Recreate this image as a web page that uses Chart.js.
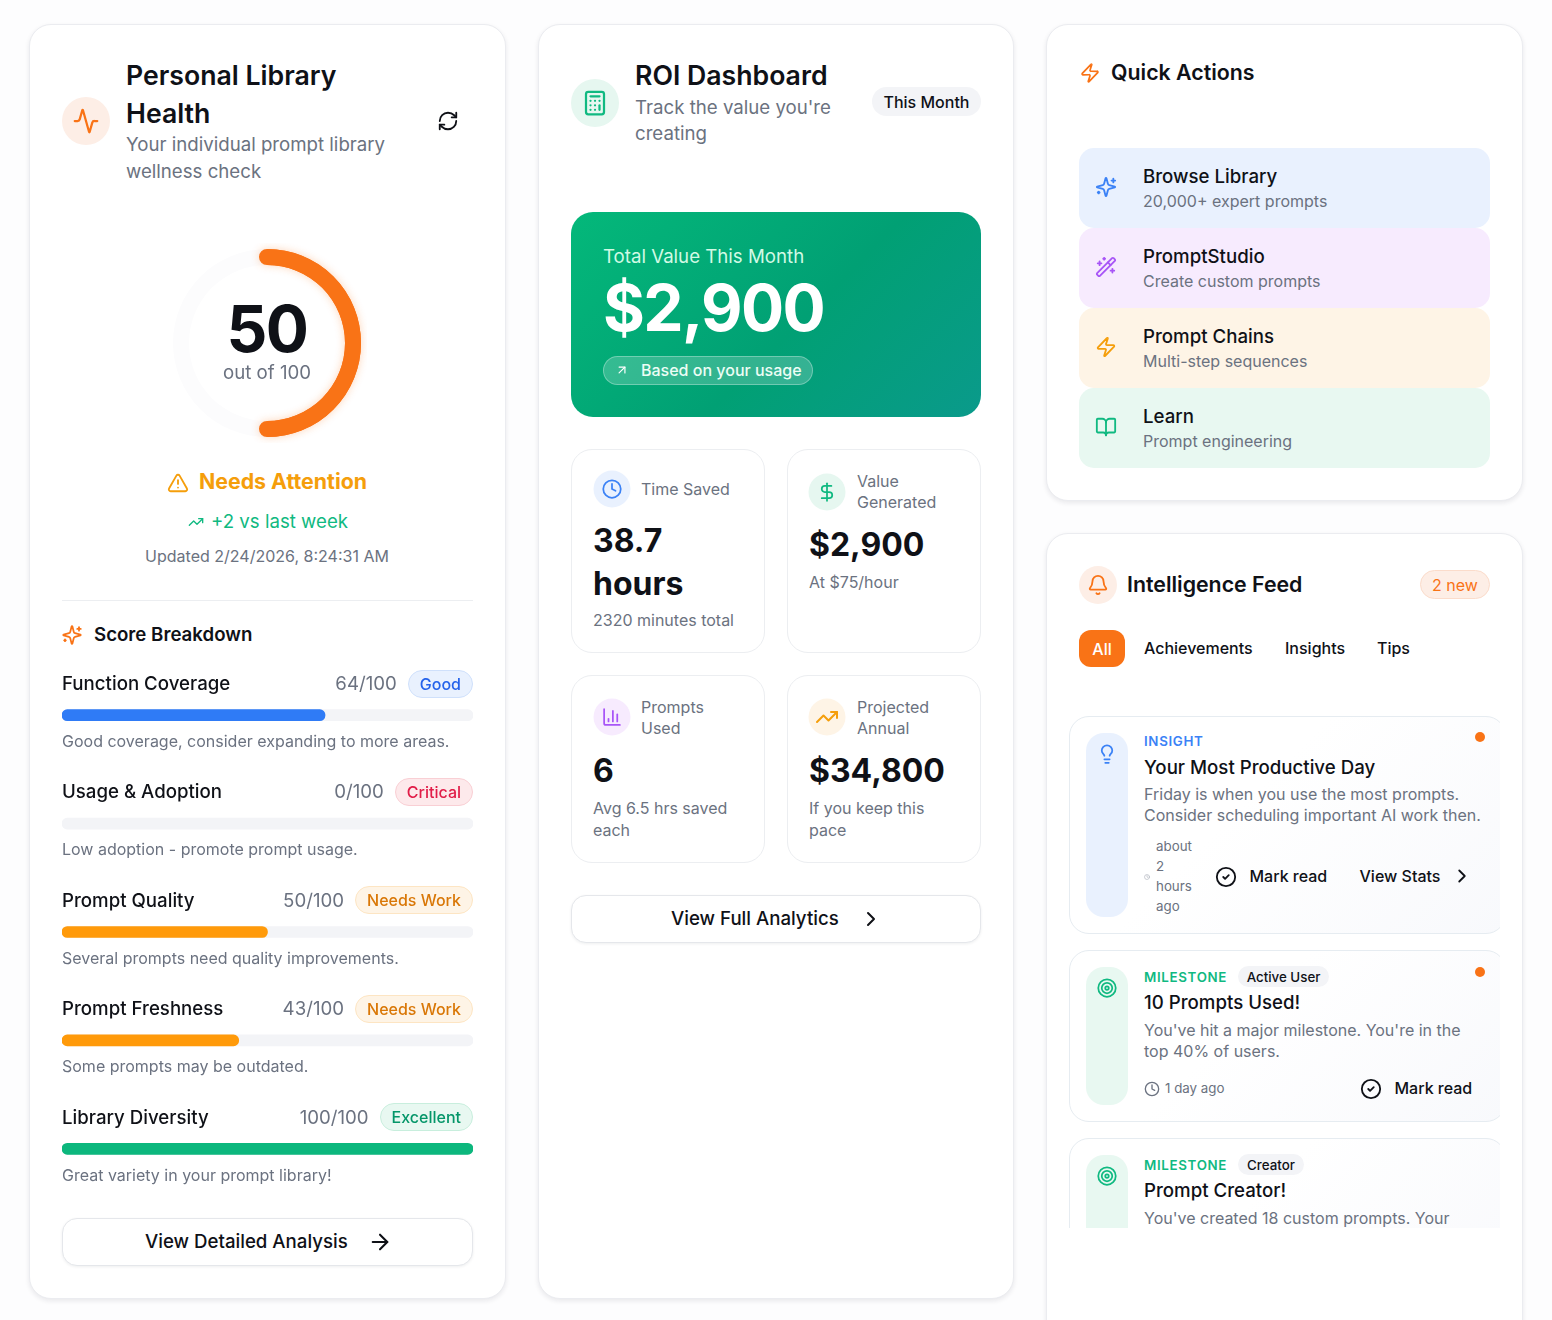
<!DOCTYPE html>
<html>
<head>
<meta charset="utf-8">
<title>Personal Library Health</title>
<script src="https://cdn.jsdelivr.net/npm/chart.js@4/dist/chart.umd.min.js"></script>
<style>
  html, body { margin: 0; padding: 0; background: #fdfdfe; }
  #root { position: relative; width: 1552px; height: 1320px; overflow: hidden; font-family: Inter, "Noto Sans", sans-serif; color: #0f1117; }
  .box { position: absolute; box-sizing: border-box; }
  .card { background: #fff; border: 1px solid #ebecf0; border-radius: 22px; box-shadow: 0 2px 5px rgba(17,24,39,.09); }
  .t { position: absolute; transform: translateY(-50%); white-space: nowrap; }
  .c { position: absolute; transform: translate(-50%,-50%); white-space: nowrap; }
  .ic { position: absolute; transform: translate(-50%,-50%); fill: none; stroke: currentColor; stroke-width: 2; stroke-linecap: round; stroke-linejoin: round; }
  .dot { position: absolute; transform: translate(-50%,-50%); border-radius: 50%; }
  .h1 { font-size: 26.67px; font-weight: 600; }
  .h2 { font-size: 21.33px; font-weight: 600; }
  .sub { font-size: 18.67px; color: #6b7280; }
  .s17 { font-size: 16px; color: #6b7280; }
  .s14 { font-size: 13.33px; color: #6b7280; }
  .m20 { font-size: 18.67px; font-weight: 500; }
  .m17 { font-size: 16px; font-weight: 500; }
  .val { font-size: 32px; font-weight: 700; }
  .btn { background: #fff; border: 1px solid #e5e7eb; border-radius: 15px; box-shadow: 0 1px 3px rgba(17,24,39,.07); }
  .mini { background: #fff; border: 1px solid #eceef1; border-radius: 21px; }
  .tag { font-size: 13.33px; font-weight: 600; letter-spacing: .67px; }
  .pill { position: absolute; box-sizing: border-box; border-radius: 99px; display: flex; align-items: center; justify-content: center; font-size: 16px; font-weight: 500; }
  .row { position: absolute; left: 62px; width: 411px; height: 30px; display: flex; align-items: center; }
  .row .name { font-size: 18.67px; font-weight: 500; }
  .row .num { margin-left: auto; font-size: 18.67px; color: #6b7280; }
  .row .badge { margin-left: 11px; height: 28px; padding: 0 11px; box-sizing: border-box; border-radius: 99px; border: 1px solid; display: flex; align-items: center; font-size: 16px; font-weight: 500; }
  .action { position: absolute; left: 1079px; width: 411px; height: 80px; border-radius: 15px; }
  .item { position: absolute; left: 0; width: 437px; border: 1px solid #e6ecf1; border-radius: 20px; box-sizing: border-box; background: linear-gradient(135deg, #fff 40%, #f8f9fc); }
  .strip { position: absolute; left: 17px; width: 42px; border-radius: 18px; }
  canvas { position: absolute; }
</style>
</head>
<body>
<svg width="0" height="0" style="position:absolute">
  <symbol id="activity" viewBox="0 0 24 24"><path d="M22 12h-2.48a2 2 0 0 0-1.93 1.46l-2.35 8.36a.25.25 0 0 1-.48 0L9.24 2.18a.25.25 0 0 0-.48 0l-2.35 8.36A2 2 0 0 1 4.49 12H2"/></symbol>
  <symbol id="refresh" viewBox="0 0 24 24"><path d="M3 12a9 9 0 0 1 9-9 9.75 9.75 0 0 1 6.74 2.74L21 8"/><path d="M21 3v5h-5"/><path d="M21 12a9 9 0 0 1-9 9 9.75 9.75 0 0 1-6.74-2.74L3 16"/><path d="M8 16H3v5"/></symbol>
  <symbol id="alert" viewBox="0 0 24 24"><path d="m21.73 18-8-14a2 2 0 0 0-3.48 0l-8 14A2 2 0 0 0 4 21h16a2 2 0 0 0 1.73-3"/><path d="M12 9v4"/><path d="M12 17h.01"/></symbol>
  <symbol id="trend" viewBox="0 0 24 24"><path d="M22 7 13.5 15.5 8.5 10.5 2 17"/><path d="M16 7h6v6"/></symbol>
  <symbol id="sparkles" viewBox="0 0 24 24"><path d="M9.937 15.5A2 2 0 0 0 8.5 14.063l-6.135-1.582a.5.5 0 0 1 0-.962L8.5 9.936A2 2 0 0 0 9.937 8.5l1.582-6.135a.5.5 0 0 1 .963 0L14.063 8.5A2 2 0 0 0 15.5 9.937l6.135 1.581a.5.5 0 0 1 0 .964L15.5 14.063a2 2 0 0 0-1.437 1.437l-1.582 6.135a.5.5 0 0 1-.963 0z"/><path d="M20 3v4"/><path d="M22 5h-4"/><path d="M4 17v2"/><path d="M5 18H3"/></symbol>
  <symbol id="arrow" viewBox="0 0 24 24"><path d="M5 12h14"/><path d="m12 5 7 7-7 7"/></symbol>
  <symbol id="chev" viewBox="0 0 24 24"><path d="m9 18 6-6-6-6"/></symbol>
  <symbol id="upright" viewBox="0 0 24 24"><path d="M7 7h10v10"/><path d="M7 17 17 7"/></symbol>
  <symbol id="calc" viewBox="0 0 24 24"><rect x="4" y="2" width="16" height="20" rx="2"/><path d="M8 6h8"/><path d="M16 14v4"/><path d="M16 10h.01"/><path d="M12 10h.01"/><path d="M8 10h.01"/><path d="M12 14h.01"/><path d="M8 14h.01"/><path d="M12 18h.01"/><path d="M8 18h.01"/></symbol>
  <symbol id="clock" viewBox="0 0 24 24"><circle cx="12" cy="12" r="10"/><path d="M12 6v6l4 2"/></symbol>
  <symbol id="dollar" viewBox="0 0 24 24"><path d="M12 2v20"/><path d="M17 5H9.5a3.5 3.5 0 0 0 0 7h5a3.5 3.5 0 0 1 0 7H6"/></symbol>
  <symbol id="columns" viewBox="0 0 24 24"><path d="M3 3v16a2 2 0 0 0 2 2h16"/><path d="M18 17V9"/><path d="M13 17V5"/><path d="M8 17v-3"/></symbol>
  <symbol id="zap" viewBox="0 0 24 24"><path d="M4 14a1 1 0 0 1-.78-1.63l9.9-10.2a.5.5 0 0 1 .86.46l-1.92 6.02A1 1 0 0 0 13 10h7a1 1 0 0 1 .78 1.63l-9.9 10.2a.5.5 0 0 1-.86-.46l1.92-6.02A1 1 0 0 0 11 14z"/></symbol>
  <symbol id="wand" viewBox="0 0 24 24"><path d="m21.64 3.64-1.28-1.28a1.21 1.21 0 0 0-1.72 0L2.36 18.64a1.21 1.21 0 0 0 0 1.72l1.28 1.28a1.2 1.2 0 0 0 1.72 0L21.64 5.36a1.2 1.2 0 0 0 0-1.72"/><path d="m14 7 3 3"/><path d="M5 6v4"/><path d="M19 14v4"/><path d="M10 2v2"/><path d="M7 8H3"/><path d="M21 16h-4"/><path d="M11 3H9"/></symbol>
  <symbol id="book" viewBox="0 0 24 24"><path d="M12 7v14"/><path d="M3 18a1 1 0 0 1-1-1V4a1 1 0 0 1 1-1h5a4 4 0 0 1 4 4 4 4 0 0 1 4-4h5a1 1 0 0 1 1 1v13a1 1 0 0 1-1 1h-6a3 3 0 0 0-3 3 3 3 0 0 0-3-3z"/></symbol>
  <symbol id="bell" viewBox="0 0 24 24"><path d="M10.268 21a2 2 0 0 0 3.464 0"/><path d="M3.262 15.326A1 1 0 0 0 4 17h16a1 1 0 0 0 .74-1.673C19.41 13.956 18 12.499 18 8A6 6 0 0 0 6 8c0 4.499-1.411 5.956-2.738 7.326"/></symbol>
  <symbol id="bulb" viewBox="0 0 24 24"><path d="M15 14c.2-1 .7-1.7 1.5-2.5 1-.9 1.5-2.2 1.5-3.5A6 6 0 0 0 6 8c0 1 .2 2.2 1.5 3.5.7.7 1.3 1.5 1.5 2.5"/><path d="M9 18h6"/><path d="M10 22h4"/></symbol>
  <symbol id="check" viewBox="0 0 24 24"><circle cx="12" cy="12" r="10"/><path d="m9 12 2 2 4-4"/></symbol>
  <symbol id="target" viewBox="0 0 24 24"><circle cx="12" cy="12" r="10"/><circle cx="12" cy="12" r="6"/><circle cx="12" cy="12" r="2"/></symbol>
</svg>

<div id="root">
  <!-- left card -->
  <div class="box card" style="left:29px;top:24px;width:477px;height:1275px"></div>
  <div class="dot" style="left:86px;top:121px;width:48px;height:48px;background:#fdeee6"></div>
  <svg class="ic" style="left:86px;top:121px;color:#f97316" width="27" height="27"><use href="#activity"/></svg>
  <div class="t h1" style="left:126px;top:75px">Personal Library</div>
  <div class="t h1" style="left:126px;top:113px">Health</div>
  <div class="t sub" style="left:126px;top:144px">Your individual prompt library</div>
  <div class="t sub" style="left:126px;top:171px">wellness check</div>
  <svg class="ic" style="left:448px;top:121px" width="22" height="22"><use href="#refresh"/></svg>

  <canvas id="scoreGauge" width="200" height="200" style="left:167px;top:243px"></canvas>
  <div class="c" id="scoreBig" style="left:267px;top:329px;font-size:64px;line-height:54px;font-weight:700;letter-spacing:-1.6px"></div>
  <div class="c" style="left:267px;top:373px;font-size:18.67px;line-height:18px;color:#6b7280">out of 100</div>
  <svg class="ic" style="left:178px;top:483px;color:#f59e0b" width="22" height="22"><use href="#alert"/></svg>
  <div class="t" style="left:199px;top:481px;font-size:21.33px;font-weight:700;color:#f59e0b">Needs Attention</div>
  <svg class="ic" style="left:196px;top:522px;color:#10b981" width="16" height="16"><use href="#trend"/></svg>
  <div class="t" style="left:211px;top:521px;font-size:18.67px;color:#10b981">+2 vs last week</div>
  <div class="c" style="left:267px;top:556px;font-size:16px;color:#6b7280">Updated 2/24/2026, 8:24:31 AM</div>
  <div class="box" style="left:62px;top:600px;width:411px;height:1px;background:#eceef1"></div>
  <svg class="ic" style="left:72px;top:635px;color:#f97316" width="21" height="21"><use href="#sparkles"/></svg>
  <div class="t" style="left:94px;top:634px;font-size:18.67px;font-weight:600">Score Breakdown</div>

  <canvas id="scoreBars" width="411" height="542" style="left:62px;top:661px"></canvas>
  <div id="scoreRows"></div>

  <div class="box btn" style="left:62px;top:1218px;width:411px;height:48px"></div>
  <div class="t m20" style="left:145px;top:1241px">View Detailed Analysis</div>
  <svg class="ic" style="left:380px;top:1242px" width="25" height="25"><use href="#arrow"/></svg>

  <!-- middle card -->
  <div class="box card" style="left:538px;top:24px;width:476px;height:1275px"></div>
  <div class="dot" style="left:595px;top:103px;width:48px;height:48px;background:#e6f7f0"></div>
  <svg class="ic" style="left:595px;top:103px;color:#10b981" width="27" height="27"><use href="#calc"/></svg>
  <div class="t h1" style="left:635px;top:75px">ROI Dashboard</div>
  <div class="t sub" style="left:635px;top:107px">Track the value you're</div>
  <div class="t sub" style="left:635px;top:133px">creating</div>
  <div class="pill" style="left:872px;top:87px;width:109px;height:29px;background:#f3f4f7">This Month</div>

  <div class="box" style="left:571px;top:212px;width:410px;height:205px;border-radius:22px;background:linear-gradient(135deg,#04b87a,#01a074 55%,#0a9a8b)"></div>
  <div class="t" style="left:603px;top:256px;font-size:18.67px;color:#d1fae5">Total Value This Month</div>
  <div class="t" style="left:603px;top:307px;font-size:64px;font-weight:700;color:#fff;letter-spacing:-1.6px">$2,900</div>
  <div class="box" style="left:603px;top:356px;width:210px;height:29px;border-radius:99px;background:rgba(255,255,255,.2);border:1px solid rgba(255,255,255,.3)"></div>
  <svg class="ic" style="left:622px;top:370px;color:#fff" width="14" height="14"><use href="#upright"/></svg>
  <div class="t m17" style="left:641px;top:370px;color:#ecfdf5">Based on your usage</div>

  <div class="box mini" style="left:571px;top:449px;width:194px;height:204px"></div>
  <div class="box mini" style="left:787px;top:449px;width:194px;height:204px"></div>
  <div class="box mini" style="left:571px;top:675px;width:194px;height:188px"></div>
  <div class="box mini" style="left:787px;top:675px;width:194px;height:188px"></div>

  <div class="dot" style="left:612px;top:489px;width:37px;height:37px;background:#e9f1fe"></div>
  <svg class="ic" style="left:612px;top:489px;color:#3b82f6" width="21" height="21"><use href="#clock"/></svg>
  <div class="t s17" style="left:641px;top:489px">Time Saved</div>
  <div class="t val" style="left:593px;top:540px">38.7</div>
  <div class="t val" style="left:593px;top:583px">hours</div>
  <div class="t s17" style="left:593px;top:620px">2320 minutes total</div>

  <div class="dot" style="left:827px;top:492px;width:37px;height:37px;background:#e6f7f0"></div>
  <svg class="ic" style="left:827px;top:492px;color:#10b981" width="21" height="21"><use href="#dollar"/></svg>
  <div class="t s17" style="left:857px;top:481px">Value</div>
  <div class="t s17" style="left:857px;top:502px">Generated</div>
  <div class="t val" style="left:809px;top:544px">$2,900</div>
  <div class="t s17" style="left:809px;top:582px">At $75/hour</div>

  <div class="dot" style="left:612px;top:717px;width:37px;height:37px;background:#f7ebfe"></div>
  <svg class="ic" style="left:612px;top:717px;color:#a855f7" width="21" height="21"><use href="#columns"/></svg>
  <div class="t s17" style="left:641px;top:707px">Prompts</div>
  <div class="t s17" style="left:641px;top:728px">Used</div>
  <div class="t val" style="left:593px;top:770px">6</div>
  <div class="t s17" style="left:593px;top:808px">Avg 6.5 hrs saved</div>
  <div class="t s17" style="left:593px;top:830px">each</div>

  <div class="dot" style="left:827px;top:717px;width:37px;height:37px;background:#fef4e6"></div>
  <svg class="ic" style="left:827px;top:717px;color:#f59e0b" width="24" height="24"><use href="#trend"/></svg>
  <div class="t s17" style="left:857px;top:707px">Projected</div>
  <div class="t s17" style="left:857px;top:728px">Annual</div>
  <div class="t val" style="left:809px;top:770px">$34,800</div>
  <div class="t s17" style="left:809px;top:808px">If you keep this</div>
  <div class="t s17" style="left:809px;top:830px">pace</div>

  <div class="box btn" style="left:571px;top:895px;width:410px;height:48px"></div>
  <div class="t m20" style="left:671px;top:918px">View Full Analytics</div>
  <svg class="ic" style="left:871px;top:919px" width="24" height="24"><use href="#chev"/></svg>

  <!-- quick actions -->
  <div class="box card" style="left:1046px;top:24px;width:477px;height:477px"></div>
  <svg class="ic" style="left:1090px;top:73px;color:#f97316" width="21" height="21"><use href="#zap"/></svg>
  <div class="t h2" style="left:1111px;top:72px">Quick Actions</div>

  <div class="action" style="top:148px;background:#e9f1fe"></div>
  <svg class="ic" style="left:1106px;top:187px;color:#3b82f6" width="22" height="22"><use href="#sparkles"/></svg>
  <div class="t m20" style="left:1143px;top:176px">Browse Library</div>
  <div class="t s17" style="left:1143px;top:201px">20,000+ expert prompts</div>

  <div class="action" style="top:228px;background:#f7ebfe"></div>
  <svg class="ic" style="left:1106px;top:267px;color:#a855f7" width="22" height="22"><use href="#wand"/></svg>
  <div class="t m20" style="left:1143px;top:256px">PromptStudio</div>
  <div class="t s17" style="left:1143px;top:281px">Create custom prompts</div>

  <div class="action" style="top:308px;background:#fef4e6"></div>
  <svg class="ic" style="left:1106px;top:347px;color:#f59e0b" width="22" height="22"><use href="#zap"/></svg>
  <div class="t m20" style="left:1143px;top:336px">Prompt Chains</div>
  <div class="t s17" style="left:1143px;top:361px">Multi-step sequences</div>

  <div class="action" style="top:388px;background:#e8f8f1"></div>
  <svg class="ic" style="left:1106px;top:427px;color:#10b981" width="22" height="22"><use href="#book"/></svg>
  <div class="t m20" style="left:1143px;top:416px">Learn</div>
  <div class="t s17" style="left:1143px;top:441px">Prompt engineering</div>

  <!-- intelligence feed -->
  <div class="box card" style="left:1046px;top:533px;width:477px;height:840px"></div>
  <div class="dot" style="left:1098px;top:585px;width:38px;height:38px;background:#fdeee6"></div>
  <svg class="ic" style="left:1098px;top:585px;color:#f97316" width="22" height="22"><use href="#bell"/></svg>
  <div class="t h2" style="left:1127px;top:584px">Intelligence Feed</div>
  <div class="pill" style="left:1420px;top:570px;width:70px;height:29px;background:#fdeee6;border:1px solid #fbdccb;color:#f97316;font-weight:400">2 new</div>
  <div class="pill" style="left:1079px;top:630px;width:46px;height:37px;border-radius:12px;background:#f97316;color:#fff">All</div>
  <div class="t m17" style="left:1144px;top:648px">Achievements</div>
  <div class="t m17" style="left:1285px;top:648px">Insights</div>
  <div class="t m17" style="left:1377px;top:648px">Tips</div>

  <div style="position:absolute;left:1069px;top:715px;width:431px;height:513px;overflow:hidden">
    <div class="item" style="top:1px;height:218px"></div>
    <div class="strip" style="top:18px;height:184px;background:#e9f1fe"></div>
    <svg class="ic" style="left:38px;top:39px;color:#3b82f6" width="21" height="21"><use href="#bulb"/></svg>
    <div class="t tag" style="left:75px;top:26px;color:#3b82f6">INSIGHT</div>
    <div class="t m20" style="left:75px;top:51.5px">Your Most Productive Day</div>
    <div class="t s17" style="left:75px;top:79px">Friday is when you use the most prompts.</div>
    <div class="t s17" style="left:75px;top:100px">Consider scheduling important AI work then.</div>
    <svg class="ic" style="left:78px;top:162px;color:#9ca3af" width="6" height="6"><use href="#clock"/></svg>
    <div class="t s14" style="left:87px;top:131px">about</div>
    <div class="t s14" style="left:87px;top:151px">2</div>
    <div class="t s14" style="left:87px;top:171px">hours</div>
    <div class="t s14" style="left:87px;top:191px">ago</div>
    <svg class="ic" style="left:157px;top:162px" width="22" height="22"><use href="#check"/></svg>
    <div class="t m17" style="left:180.5px;top:161px">Mark read</div>
    <div class="t m17" style="left:290.5px;top:161px">View Stats</div>
    <svg class="ic" style="left:393px;top:161px" width="22" height="22"><use href="#chev"/></svg>
    <div class="dot" style="left:411px;top:22px;width:10px;height:10px;background:#f97316"></div>

    <div class="item" style="top:235px;height:172px"></div>
    <div class="strip" style="top:252px;height:138px;background:#e8f8f1"></div>
    <svg class="ic" style="left:38px;top:273px;color:#10b981" width="21" height="21"><use href="#target"/></svg>
    <div class="t tag" style="left:75px;top:262px;color:#10b981">MILESTONE</div>
    <div class="pill" style="left:169px;top:251px;width:91px;height:21px;background:#f3f4f7;font-size:13.33px">Active User</div>
    <div class="t m20" style="left:75px;top:287px">10 Prompts Used!</div>
    <div class="t s17" style="left:75px;top:315px">You've hit a major milestone. You're in the</div>
    <div class="t s17" style="left:75px;top:336px">top 40% of users.</div>
    <svg class="ic" style="left:83px;top:374px;color:#6b7280" width="16" height="16"><use href="#clock"/></svg>
    <div class="t s14" style="left:96px;top:373px">1 day ago</div>
    <svg class="ic" style="left:302px;top:374px" width="22" height="22"><use href="#check"/></svg>
    <div class="t m17" style="left:325.5px;top:373px">Mark read</div>
    <div class="dot" style="left:411px;top:257px;width:10px;height:10px;background:#f97316"></div>

    <div class="item" style="top:423px;height:172px"></div>
    <div class="strip" style="top:440px;height:138px;background:#e8f8f1"></div>
    <svg class="ic" style="left:38px;top:461px;color:#10b981" width="21" height="21"><use href="#target"/></svg>
    <div class="t tag" style="left:75px;top:450px;color:#10b981">MILESTONE</div>
    <div class="pill" style="left:169px;top:439px;width:66px;height:21px;background:#f3f4f7;font-size:13.33px">Creator</div>
    <div class="t m20" style="left:75px;top:475px">Prompt Creator!</div>
    <div class="t s17" style="left:75px;top:503px">You've created 18 custom prompts. Your</div>
  </div>
</div>

<script>
const overallScore = 50;
const scoreMax = 100;
const scoreLabels = ['Function Coverage', 'Usage & Adoption', 'Prompt Quality', 'Prompt Freshness', 'Library Diversity'];
const scoreValues = [64, 0, 50, 43, 100];
const scoreStatus = ['Good', 'Critical', 'Needs Work', 'Needs Work', 'Excellent'];
const scoreNotes = [
  'Good coverage, consider expanding to more areas.',
  'Low adoption - promote prompt usage.',
  'Several prompts need quality improvements.',
  'Some prompts may be outdated.',
  'Great variety in your prompt library!'
];
const barColors = ['#2f7bf6', 'rgba(0,0,0,0)', '#ff9a0a', '#ff9a0a', '#0cb77d'];

const badgeStyles = {
  'Good': ['#e9f1fe', '#cfe0fb', '#2563eb'],
  'Critical': ['#fde9eb', '#f9cfd4', '#e11d48'],
  'Needs Work': ['#fef4e6', '#fde5c3', '#d97706'],
  'Excellent': ['#e8f8f1', '#c8eedd', '#059669']
};

document.getElementById('scoreBig').textContent = overallScore;

// text rows on top of the bar chart
const rows = document.getElementById('scoreRows');
scoreLabels.forEach(function (label, i) {
  const b = badgeStyles[scoreStatus[i]];
  const top = 668.5 + i * 108.4;
  rows.insertAdjacentHTML('beforeend',
    '<div class="row" style="top:' + top + 'px">' +
    '<span class="name">' + label.replace('&', '&amp;') + '</span>' +
    '<span class="num">' + scoreValues[i] + '/' + scoreMax + '</span>' +
    '<span class="badge" style="background:' + b[0] + ';border-color:' + b[1] + ';color:' + b[2] + '">' + scoreStatus[i] + '</span>' +
    '</div>' +
    '<div class="t s17" style="left:62px;top:' + (741 + i * 108.4) + 'px">' + scoreNotes[i] + '</div>');
});

// round ends for the first arc of the gauge
const roundCaps = {
  id: 'roundCaps',
  afterDatasetsDraw(chart) {
    const arc = chart.getDatasetMeta(0).data[0];
    const mid = (arc.innerRadius + arc.outerRadius) / 2;
    const ctx = chart.ctx;
    ctx.save();
    ctx.strokeStyle = '#f97316';
    ctx.lineWidth = arc.outerRadius - arc.innerRadius;
    ctx.lineCap = 'round';
    ctx.shadowColor = 'rgba(249,115,22,.3)';
    ctx.shadowBlur = 8;
    ctx.beginPath();
    ctx.arc(arc.x, arc.y, mid, arc.startAngle, arc.endAngle);
    ctx.stroke();
    ctx.restore();
  }
};

new Chart(document.getElementById('scoreGauge'), {
  type: 'doughnut',
  data: {
    labels: ['Score', 'Remaining'],
    datasets: [{
      data: [overallScore, scoreMax - overallScore],
      backgroundColor: ['#f97316', '#fcfcfd'],
      borderWidth: 0
    }]
  },
  options: {
    responsive: false,
    animation: false,
    cutout: '83%',
    layout: { padding: 6 },
    plugins: { legend: { display: false }, tooltip: { enabled: false } }
  },
  plugins: [roundCaps]
});

new Chart(document.getElementById('scoreBars'), {
  type: 'bar',
  data: {
    labels: scoreLabels,
    datasets: [
      {
        data: scoreValues,
        backgroundColor: barColors,
        borderRadius: 6,
        borderSkipped: false,
        barThickness: 11,
        order: 1
      },
      {
        data: scoreLabels.map(function () { return scoreMax; }),
        backgroundColor: '#f3f4f7',
        borderRadius: 6,
        borderSkipped: false,
        barThickness: 11,
        order: 2
      }
    ]
  },
  options: {
    indexAxis: 'y',
    responsive: false,
    animation: false,
    grouped: false,
    layout: { padding: 0 },
    scales: {
      x: { display: false, min: 0, max: scoreMax },
      y: { display: false }
    },
    plugins: { legend: { display: false }, tooltip: { enabled: false } }
  }
});
</script>
</body>
</html>
